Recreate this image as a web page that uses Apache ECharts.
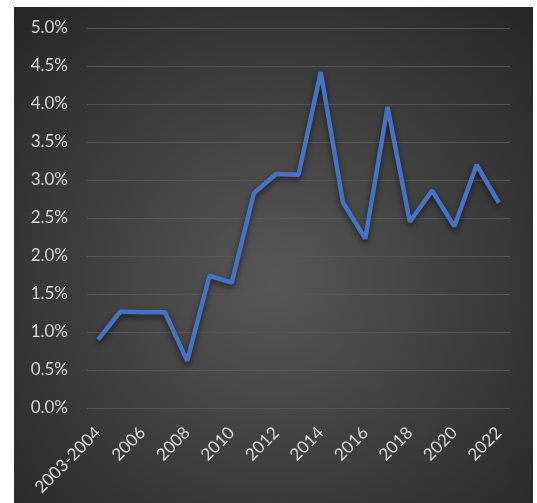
<!DOCTYPE html>
<html>
<head>
<meta charset="utf-8">
<script src="https://cdn.jsdelivr.net/npm/echarts@6/dist/echarts.min.js"></script>
<style>
html,body{margin:0;padding:0;background:#fff;}
#c{position:absolute;left:14px;top:7px;width:519px;height:496px;}
</style>
</head>
<body>
<div id="c"></div>
<script>
const categories = ['2003-2004','2005','2006','2007','2008','2009','2010','2011','2012','2013','2014','2015','2016','2017','2018','2019','2020','2021','2022'];
const values = [0.90,1.27,1.26,1.26,0.62,1.74,1.65,2.83,3.08,3.07,4.42,2.70,2.23,3.96,2.45,2.86,2.39,3.20,2.70];
const yMin = 0, yMax = 5, yStep = 0.5;

const chart = echarts.init(document.getElementById('c'));
chart.setOption({
  backgroundColor: {
    type: 'radial', x: 0.5, y: 0.55, r: 0.75,
    colorStops: [
      {offset: 0, color: '#575757'},
      {offset: 1, color: '#262626'}
    ]
  },
  animation: false,
  grid: {left: 73, right: 23, top: 21, bottom: 95},
  xAxis: {
    type: 'category',
    data: categories,
    boundaryGap: true,
    axisLine: {show: false},
    axisTick: {show: false},
    axisLabel: {
      interval: 1,
      rotate: 45,
      color: '#d9d9d9',
      fontFamily: 'Lato',
      fontSize: 17,
      margin: 22
    }
  },
  yAxis: {
    type: 'value',
    min: yMin, max: yMax, interval: yStep,
    axisLine: {show: false},
    axisTick: {show: false},
    splitLine: {lineStyle: {color: '#555555', width: 1}},
    axisLabel: {
      color: '#d9d9d9',
      fontFamily: 'Lato',
      fontSize: 17,
      margin: 19,
      formatter: v => v.toFixed(1) + '%'
    }
  },
  series: [{
    type: 'line',
    data: values,
    symbol: 'none',
    lineStyle: {
      color: '#4472C4', width: 4.5,
      shadowColor: 'rgba(0,0,0,0.6)', shadowBlur: 6, shadowOffsetY: 3
    },
    itemStyle: {color: '#4472C4'}
  }]
});
</script>
</body>
</html>
